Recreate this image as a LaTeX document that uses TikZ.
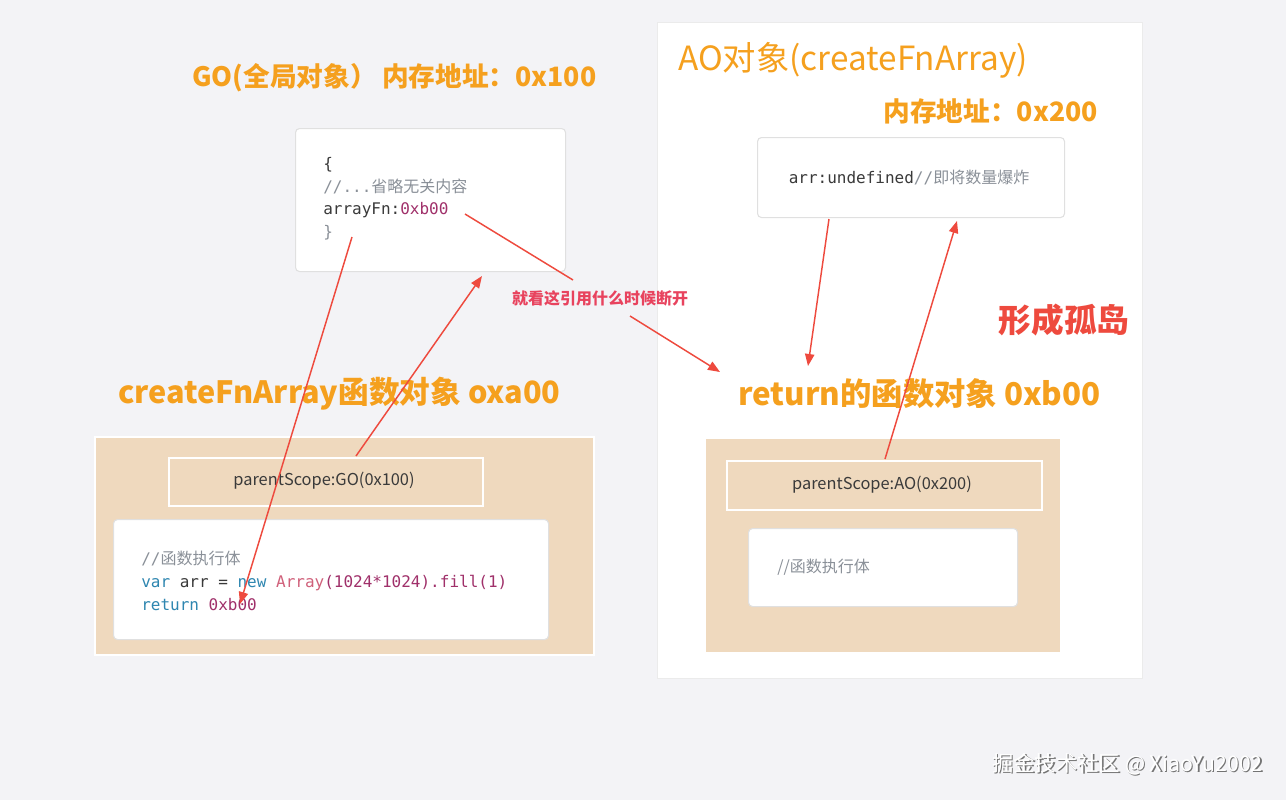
\documentclass[tikz,border=0pt]{standalone}
\usepackage{fontspec}
\setmainfont{Noto Sans CJK SC}
\newfontfamily\cjk{Noto Sans CJK SC}
\newfontfamily\mono{DejaVu Sans Mono}
\usetikzlibrary{arrows.meta}
\definecolor{bg}{HTML}{F3F3F6}
\definecolor{org}{HTML}{F5A01E}
\definecolor{tan}{HTML}{EFD9BE}
\definecolor{arr}{HTML}{EE4A3E}
\definecolor{pink}{HTML}{E8435E}
\definecolor{kw}{HTML}{2E86B0}
\definecolor{num}{HTML}{A0306A}
\definecolor{cls}{HTML}{D0607A}
\definecolor{cm}{HTML}{8A9098}
\definecolor{txt}{HTML}{3A3A3A}
\tikzset{
 card/.style={draw=black!12,fill=white,rounded corners=3pt,line width=0.8pt},
 tanbox/.style={draw=white,fill=tan,line width=1.6pt},
 ttl/.style={text=org,font=\fontsize{23}{26}\selectfont\bfseries,inner sep=0pt,anchor=west},
 code/.style={font=\mono\fontsize{12}{17}\selectfont,align=left,anchor=north west,inner sep=0pt,text=txt},
 ref/.style={draw=arr,line width=1.1pt,-{Triangle[length=9pt,width=7pt]}},
 refl/.style={draw=arr,line width=1.1pt},
 wmk/.style={font=\fontsize{16}{18}\selectfont,inner sep=0pt,anchor=east},
}
\begin{document}
\begin{tikzpicture}[x=0.75pt,y=-0.75pt]
\fill[bg] (0,0) rectangle (1286,800);
\useasboundingbox (0,0) rectangle (1286,800);
\fill[white,draw=black!8] (657,22) rectangle (1142,678);

\node[ttl,font=\fontsize{20}{24}\selectfont\bfseries] (gotitle) at (192,78) {GO(全局对象）\hspace{0.2em}内存地址：0x100};
\node[card,minimum width=270*0.75pt,minimum height=143*0.75pt,anchor=north west] (gobox) at (295,128) {};
\node[code] (gocode) at (323,157) {\{\\\textcolor{cm}{//...{\cjk 省略无关内容}}\\arrayFn:\textcolor{num}{0xb00}\\\textcolor{cm}{\}}};

\node[text=org,font=\fontsize{25}{28}\selectfont,inner sep=0pt,anchor=west] (aotitle) at (678,60) {AO对象(createFnArray)};
\node[ttl,anchor=east,font=\fontsize{20}{24}\selectfont\bfseries] (aoaddr) at (1098,111) {内存地址：0x200};
\node[card,minimum width=307*0.75pt,minimum height=80*0.75pt,anchor=north west] (aobox) at (757,137) {};
\node[font=\mono\fontsize{12}{14}\selectfont,text=txt,inner sep=0pt] (aotext) at (909,178) {arr:undefined\textcolor{cm}{//{\cjk 即将数量爆炸}}};

\node[text=pink,font=\fontsize{12}{14}\selectfont\bfseries,inner sep=0pt] (lbl) at (600,298) {就看这引用什么时候断开};
\node[text=arr,font=\fontsize{24.5}{28}\selectfont\bfseries,inner sep=0pt] (island) at (1064,320) {形成孤岛};

\node[ttl] (cftitle) at (118,394) {createFnArray函数对象 oxa00};
\node[ttl,font=\fontsize{23.5}{26}\selectfont\bfseries] (rttitle) at (738,394) {return的函数对象 0xb00};

% left function object
\node[tanbox,minimum width=499*0.75pt,minimum height=218*0.75pt,anchor=north west] (lfo) at (94,436) {};
\node[tanbox,minimum width=314*0.75pt,minimum height=48*0.75pt,anchor=north west] (lps) at (168,457) {};
\node[font=\fontsize{12.3}{14}\selectfont,text=txt,inner sep=0pt] (lpst) at (324,481) {parentScope:GO(0x100)};
\node[card,minimum width=435*0.75pt,minimum height=120*0.75pt,anchor=north west] (lbody) at (113,519) {};
\node[code] (lcode) at (141,551) {\textcolor{cm}{//{\cjk 函数执行体}}\\\textcolor{kw}{var} arr = \textcolor{kw}{new} \textcolor{cls}{Array}\textcolor{num}{(1024*1024).fill(1)}\\\textcolor{kw}{return} \textcolor{num}{0xb00}};
\coordinate (lhit) at (240,604);

% right function object
\node[tanbox,minimum width=356*0.75pt,minimum height=215*0.75pt,anchor=north west] (rfo) at (704,437) {};
\node[tanbox,minimum width=315*0.75pt,minimum height=49*0.75pt,anchor=north west] (rps) at (726,460) {};
\node[font=\fontsize{12.3}{14}\selectfont,text=txt,inner sep=0pt] (rpst) at (882,485) {parentScope:AO(0x200)};
\node[card,minimum width=269*0.75pt,minimum height=78*0.75pt,anchor=north west] (rbody) at (748,528) {};
\node[font=\fontsize{12}{14}\selectfont,text=cm,inner sep=0pt,anchor=west] (rcode) at (777,567) {//函数执行体};

% arrows
\coordinate (a1) at (352,237);
\draw[ref] (a1) -- (lhit);
\coordinate (a2s) at (356,456); \coordinate (a2e) at (482,276);
\draw[ref] (a2s) -- (a2e);
\coordinate (a3s) at (465,214); \coordinate (a3e) at (573,280);
\draw[refl] (a3s) -- (a3e);
\coordinate (a4s) at (630,316); \coordinate (a4e) at (720,372);
\draw[ref] (a4s) -- (a4e);
\coordinate (a5s) at (829,219); \coordinate (a5e) at (808,366);
\draw[ref] (a5s) -- (a5e);
\coordinate (a6s) at (885,459); \coordinate (a6e) at (957,221);
\draw[ref] (a6s) -- (a6e);

\node[wmk,text=black!55] (wms) at (1264.5,765.5) {掘金技术社区 @ XiaoYu2002};
\node[wmk,text=white] (wm) at (1263,764) {掘金技术社区 @ XiaoYu2002};
\end{tikzpicture}
\end{document}
